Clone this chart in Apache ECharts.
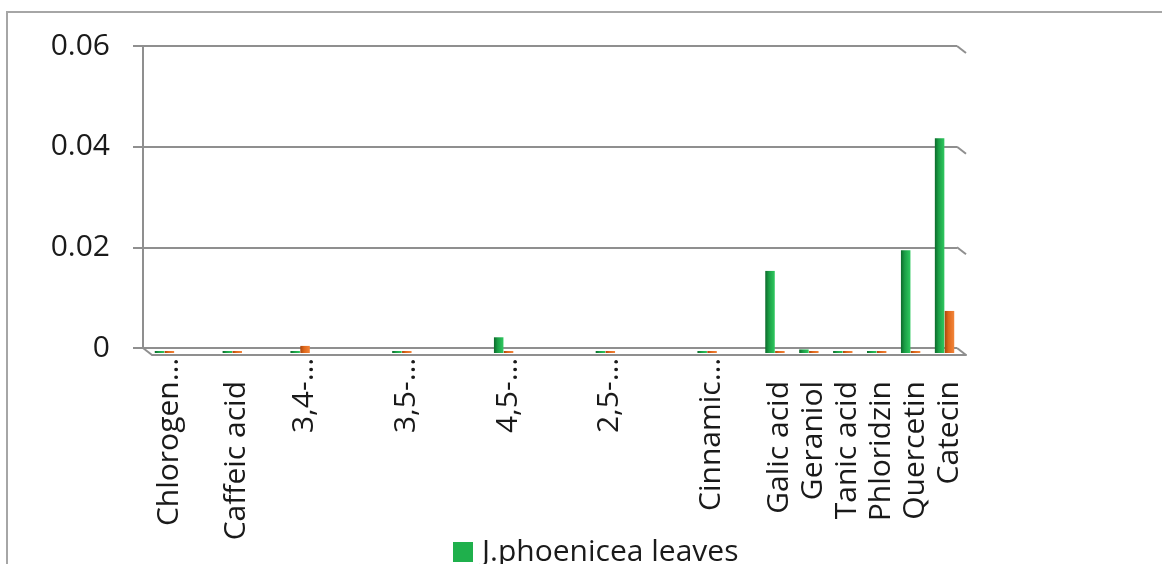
<!DOCTYPE html>
<html>
<head>
<meta charset="utf-8">
<script src="https://cdn.jsdelivr.net/npm/echarts@6/dist/echarts.min.js"></script>
<style>
  html, body { margin: 0; padding: 0; background: #fff; }
  #chart { width: 1162px; height: 564px; position: relative; }
  #frame { position: absolute; left: 6px; top: 11px; width: 1200px; height: 600px;
           border-left: 2px solid #a6a6a6; border-top: 2px solid #a6a6a6; pointer-events: none; }
</style>
</head>
<body>
<div id="chart"></div>
<div id="frame"></div>
<script>
// ---- data ----
const categories = ['Chlorogen…', '', 'Caffeic acid', '', '3,4-…', '', '', '3,5-…', '', '', '4,5-…', '', '',
  '2,5-…', '', '', 'Cinnamic…', '', 'Galic acid', 'Geraniol', 'Tanic acid', 'Phloridzin', 'Quercetin', 'Catecin'];
const seriesNames = ['J.phoenicea leaves', 'J.phoenicea fruits'];
const leaves = [0.0004, null, 0.0004, null, 0.0004, null, null, 0.0004, null, null, 0.0031, null, null,
  0.0004, null, null, 0.0004, null, 0.0162, 0.0007, 0.0004, 0.0004, 0.0203, 0.0424];
const fruits = [0.0004, null, 0.0004, null, 0.0014, null, null, 0.0004, null, null, 0.0004, null, null,
  0.0004, null, null, 0.0004, null, 0.0004, 0.0004, 0.0004, 0.0004, 0.0004, 0.0083];
const yTicks = [0, 0.02, 0.04, 0.06];

// ---- chart ----
const FONT = 'Open Sans';
const GRAY = '#8f8f8f';
const TXT = '#1a1a1a';
const chart = echarts.init(document.getElementById('chart'), null, { renderer: 'canvas' });

const axisData = categories.map(c => ({
  value: c,
  textStyle: { padding: (c === '' || c.endsWith('…')) ? [0, 0, 0, 0] : [0, 23, 0, 0] }
}));

function grad(dark, mid, light) {
  return new echarts.graphic.LinearGradient(0, 0, 1, 0, [
    { offset: 0, color: dark }, { offset: 0.4, color: mid }, { offset: 1, color: light }
  ]);
}

const option = {
  animation: false,
  backgroundColor: '#fff',
  textStyle: { fontFamily: FONT },
  legend: {
    data: [{ name: seriesNames[0], itemStyle: { color: '#1fb04c' } }],
    left: 453, top: 537, padding: 0,
    itemWidth: 20, itemHeight: 20,
    icon: 'rect',
    textStyle: { fontFamily: FONT, fontSize: 30, color: TXT, padding: [0, 0, 0, 4] }
  },
  grid: [
    { left: 143, right: 205, top: 46, bottom: 216 },      // back wall
    { left: 152, right: 196, top: 53, bottom: 209 },      // front floor edge / labels
    { left: 147.5, right: 200.5, top: 49, bottom: 211 }   // bars (mid depth)
  ],
  xAxis: [
    { gridIndex: 0, type: 'value', min: 0, max: 1, show: false },
    { gridIndex: 1, type: 'category', data: axisData, boundaryGap: true,
      axisLine: { lineStyle: { color: GRAY, width: 2 } },
      axisTick: { interval: 0, length: 11, lineStyle: { color: GRAY, width: 2 } },
      axisLabel: { interval: 0, rotate: 90, margin: 3, fontFamily: FONT, fontSize: 30, color: TXT }
    },
    { gridIndex: 2, type: 'category', data: categories, show: false }
  ],
  yAxis: [
    { gridIndex: 0, type: 'value', min: 0, max: 0.06, interval: 0.02,
      axisLine: { show: true, lineStyle: { color: GRAY, width: 2 } },
      axisTick: { show: true, length: 10, lineStyle: { color: GRAY, width: 2 } },
      splitLine: { lineStyle: { color: GRAY, width: 2 } },
      axisLabel: { margin: 33, fontFamily: FONT, fontSize: 30, color: TXT,
        formatter: v => (v === 0 ? '0' : v.toFixed(2)) }
    },
    { gridIndex: 1, type: 'value', min: 0, max: 0.06, show: false },
    { gridIndex: 2, type: 'value', min: 0, max: 0.06, show: false }
  ],
  series: [
    {
      type: 'custom', xAxisIndex: 0, yAxisIndex: 0, silent: true, z: 1,
      data: yTicks.map(v => [1, v]).concat([[0, 0]]),
      renderItem: (params, api) => {
        const p = api.coord([api.value(0), api.value(1)]);
        return { type: 'line', shape: { x1: p[0], y1: p[1], x2: p[0] + 9, y2: p[1] + 7 },
                 style: { stroke: GRAY, lineWidth: 2 } };
      }
    },
    {
      name: seriesNames[0], type: 'bar', xAxisIndex: 2, yAxisIndex: 2,
      data: leaves, barWidth: 9.5, barGap: '4%', z: 3,
      itemStyle: { color: grad('#0c6a2b', '#1b9f46', '#2fc85f') }
    },
    {
      name: seriesNames[1], type: 'bar', xAxisIndex: 2, yAxisIndex: 2,
      data: fruits, barWidth: 9.5, barGap: '4%', z: 3,
      itemStyle: { color: grad('#a9460c', '#e0681b', '#f2853a') }
    }
  ]
};
chart.setOption(option);
</script>
</body>
</html>
